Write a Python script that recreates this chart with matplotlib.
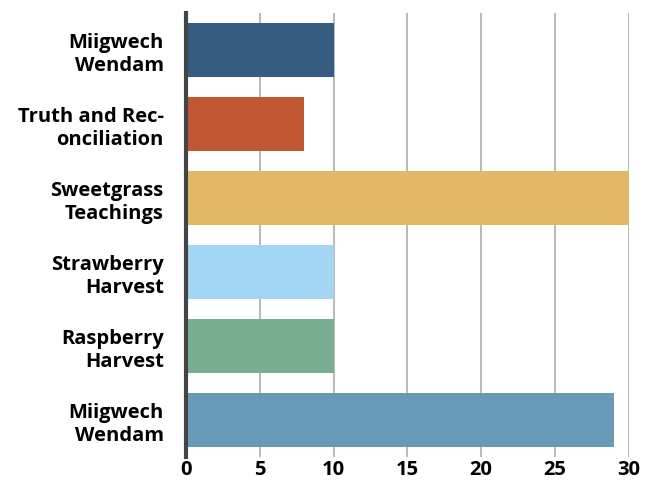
import numpy as np
import matplotlib.pyplot as plt

plt.rcParams['font.family'] = ['Open Sans', 'DejaVu Sans']
plt.rcParams['font.stretch'] = 'normal'

# chart data
categories = ['Miigwech\nWendam', 'Truth and Rec-\nonciliation', 'Sweetgrass\nTeachings',
              'Strawberry\nHarvest', 'Raspberry\nHarvest', 'Miigwech\nWendam']
values = [10, 8, 30, 10, 10, 29]
colors = ['#365d80', '#bf5732', '#e1b865', '#a2d6f2', '#79ae93', '#6a9aba']
xticks = [0, 5, 10, 15, 20, 25, 30]

fig = plt.figure(figsize=(6.57, 4.81), dpi=100)
ax = fig.add_axes([0.283, 0.048, 0.674, 0.923])

y = np.arange(len(categories))
ax.barh(y, values, height=0.73, color=colors, zorder=2)

ax.set_xlim(0, 30)
ax.set_ylim(5.5, -0.5)
ax.set_xticks(xticks)
ax.set_xticklabels([str(t) for t in xticks], fontsize=14.5, fontweight='bold', fontstretch='normal')
ax.set_yticks(y)
ax.set_yticklabels(categories, fontsize=14.5, fontweight='bold', fontstretch='normal', linespacing=1.2)
ax.tick_params(axis='x', length=0, pad=1.5)
ax.tick_params(axis='y', length=0, pad=16)

ax.grid(axis='x', color='#b3b3b3', linewidth=1.3, zorder=0)
for s in ['top', 'right', 'bottom']:
    ax.spines[s].set_visible(False)
ax.spines['left'].set_color('#444444')
ax.spines['left'].set_linewidth(3)
ax.spines['left'].set_zorder(3)

fig.savefig('out.png', dpi=100)
